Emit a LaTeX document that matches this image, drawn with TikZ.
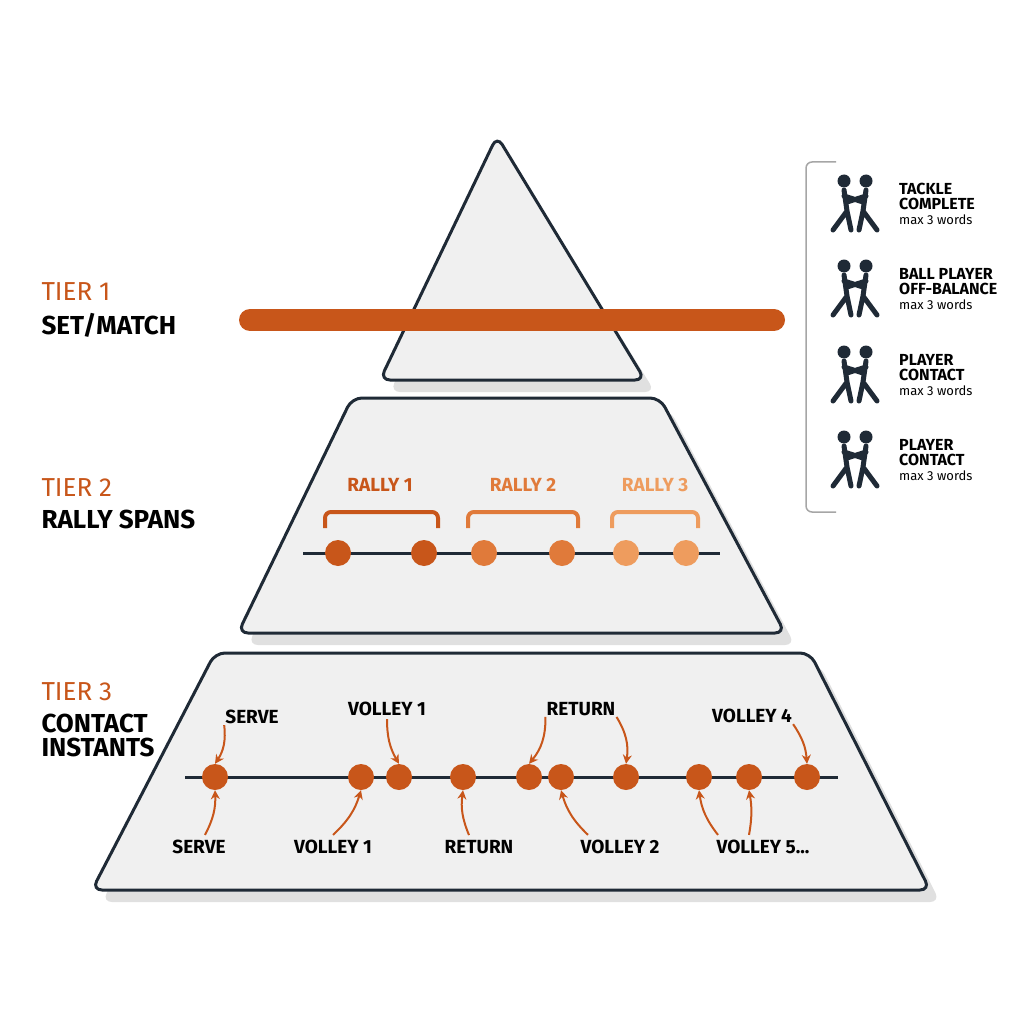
\documentclass[tikz,border=0pt]{standalone}
\usepackage{fontspec}
\setmainfont{Fira Sans}
\usetikzlibrary{arrows.meta,positioning}
\definecolor{ink}{HTML}{1F2A36}
\definecolor{rust}{HTML}{C8561A}
\definecolor{ochre}{HTML}{E07A3A}
\definecolor{peach}{HTML}{EE9C5E}
\definecolor{paper}{HTML}{F0F0F0}
\begin{document}
\begin{tikzpicture}[x=1pt,y=-1pt,
  tier/.style={draw=ink,line width=3,fill=paper,rounded corners=10},
  shade/.style={fill=black!12,rounded corners=10},
  tiernum/.style={anchor=west,text=rust,font=\fontsize{26}{28}\selectfont},
  tiername/.style={anchor=west,text=black,font=\bfseries\fontsize{26}{28}\selectfont,align=left},
  dot/.style={circle,fill=#1,minimum size=26,inner sep=0},
  dot/.default=rust,
  shot/.style={font=\bfseries\fontsize{19}{21}\selectfont,inner sep=1},
  rally/.style={font=\bfseries\fontsize{19}{21}\selectfont,text=#1},
  bracket/.style={draw=#1,line width=4,rounded corners=6},
  pointer/.style={-{Stealth[length=9,width=9]},draw=rust,line width=2},
  icontext/.style={anchor=north west,align=left,inner sep=0,font=\bfseries\fontsize{16}{18}\selectfont},
  fig/.style={draw=ink,line width=5,line cap=round,line join=round}]
\useasboundingbox[fill=white] (0,0) rectangle (1024,1024);

% shadows
\fill[shade] (505,150) -- (655,392) -- (390,392) -- cycle;
\fill[shade] (362,410) -- (670,410) -- (795,645) -- (248,645) -- cycle;
\fill[shade] (225,665) -- (820,665) -- (940,902) -- (102,902) -- cycle;

% the three tiers
\draw[tier] (497,136) -- (645,380) -- (380,380) -- cycle;
\draw[tier] (352,398) -- (660,398) -- (785,633) -- (238,633) -- cycle;
\draw[tier] (215,653) -- (810,653) -- (930,890) -- (92,890) -- cycle;

% tier 1
\draw[rust,line width=22,line cap=round] (250,320) -- (774,320);
\node[tiernum] (t1) at (38,292) {TIER 1};
\node[tiername] (n1) at (38,325) {SET/MATCH};

% tier 2
\node[tiernum] (t2) at (38,488) {TIER 2};
\node[tiername] (n2) at (38,519) {RALLY SPANS};
\draw[ink,line width=3] (303,553) -- (720,553);
\draw[bracket=rust] (325,528) -- (325,512) -- (438,512) -- (438,528);
\draw[bracket=ochre] (468,528) -- (468,512) -- (578,512) -- (578,528);
\draw[bracket=peach] (612,528) -- (612,512) -- (698,512) -- (698,528);
\node[rally=rust] (r1) at (380,485) {RALLY 1};
\node[rally=ochre] (r2) at (523,485) {RALLY 2};
\node[rally=peach] (r3) at (655,485) {RALLY 3};
\node[dot] (a1) at (338,553) {};
\node[dot] (a2) at (424,553) {};
\node[dot=ochre] (a3) at (484,553) {};
\node[dot=ochre] (a4) at (562,553) {};
\node[dot=peach] (a5) at (626,553) {};
\node[dot=peach] (a6) at (686,553) {};

% tier 3
\node[tiernum] (t3) at (38,692) {TIER 3};
\node[tiername,anchor=north west] (n3) at (38,710) {CONTACT\\[-4pt]INSTANTS};
\draw[ink,line width=3] (185,777) -- (838,777);
\foreach \x [count=\i] in {215,361,399,463,529,561,626,699,749,807}
  \node[dot] (c\i) at (\x,777) {};

\node[shot] (s1) at (252,717) {SERVE};
\node[shot] (s2) at (387,709) {VOLLEY 1};
\node[shot] (s3) at (581,709) {RETURN};
\node[shot] (s4) at (752,716) {VOLLEY 4};
\node[shot] (b1) at (199,847) {SERVE};
\node[shot] (b2) at (333,847) {VOLLEY 1};
\node[shot] (b3) at (479,847) {RETURN};
\node[shot] (b4) at (620,847) {VOLLEY 2};
\node[shot] (b5) at (763,847) {VOLLEY 5...};

\draw[pointer] (s1.south west) to[bend left=20] (c1.north);
\draw[pointer] (s2.south) ++(0,2) to[bend right=15] (c3.north);
\draw[pointer] (s3.south west) to[bend left=20] (c5.north);
\draw[pointer] (s3.south east) to[bend right=-20] (c7.north);
\draw[pointer] (s4.south east) to[bend left=15] (c10.north);
\draw[pointer] (b1.north) ++(6,-4) to[bend right=15] (c1.south);
\draw[pointer] (b2.north) ++(0,-4) to[bend right=15] (c2.south);
\draw[pointer] (b3.north) ++(-10,-4) to[bend left=15] (c4.south);
\draw[pointer] (b4.north) ++(-32,-4) to[bend left=15] (c6.south);
\draw[pointer] (b5.north) ++(-45,-4) to[bend left=15] (c8.south);
\draw[pointer] (b5.north) ++(-14,-4) to[bend right=10] (c9.south);

% legend panel
\draw[black!35,line width=1.5,rounded corners=6] (836,162) -- (806,162) -- (806,512) -- (836,512);
\foreach \y/\top/\bot [count=\k] in {183/TACKLE/COMPLETE,268/BALL PLAYER/OFF-BALANCE,354/PLAYER/CONTACT,439/PLAYER/CONTACT}{
  \node[icontext] (lg\k) at (899,\y) {\top\\[-3pt]\bot\\[-3pt]{\mdseries\fontsize{13}{15}\selectfont max 3 words}};
  \begin{scope}[shift={(855,\y+25)}]
    \fill[ink] (-11,-27) circle (6.5);
    \fill[ink] (11,-27) circle (6.5);
    \draw[fig] (-11,-18) -- (-8,3) -- (-22,22) (-8,3) -- (-4,22);
    \draw[fig] (11,-18) -- (8,3) -- (22,22) (8,3) -- (4,22);
    \draw[fig] (-11,-12) -- (8,-6) (11,-12) -- (-8,-6);
  \end{scope}
}
\end{tikzpicture}
\end{document}
